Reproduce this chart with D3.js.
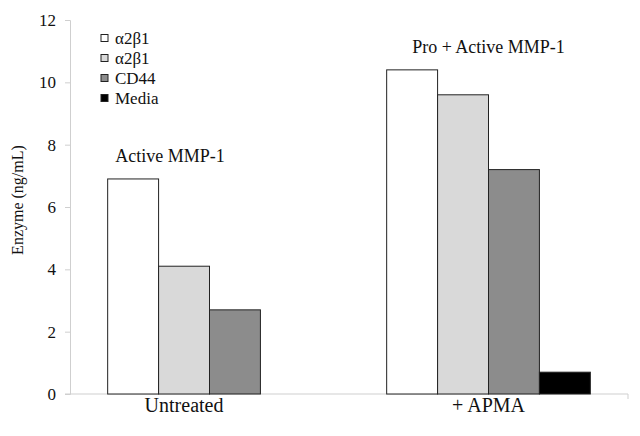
<!DOCTYPE html>
<html><head><meta charset="utf-8">
<script src="https://cdn.jsdelivr.net/npm/d3@7/dist/d3.min.js"></script>
<style>body{margin:0;background:#fff;}svg{display:block;}</style>
</head><body><svg id="c" width="640" height="436"></svg>
<script>
const categories = ["Untreated", "+ APMA"];
const seriesNames = ["α2β1", "α2β1", "CD44", "Media"];
const seriesColors = ["#ffffff", "#d9d9d9", "#8c8c8c", "#000000"];
const values = [
  [6.9, 4.1, 2.7, null],
  [10.4, 9.6, 7.2, 0.7]
];
const groupNotes = ["Active MMP-1", "Pro + Active MMP-1"];
const yTicks = [0, 2, 4, 6, 8, 10, 12];

(function () {
const FONT = "'Liberation Serif', 'Times New Roman', 'DejaVu Serif', serif";
const svg = d3.select("#c");
const mLeft = 70, mRight = 628, mTop = 20, mBottom = 394;
const x0 = d3.scaleBand().domain(categories).range([mLeft, mRight]).paddingInner(0.27).paddingOuter(0.135);
const x1 = d3.scaleBand().domain(d3.range(seriesNames.length)).range([0, x0.bandwidth()]);
const y = d3.scaleLinear().domain([0, 12]).range([mBottom, mTop]);

// y axis
const ya = svg.append("g").attr("transform", `translate(${mLeft},0)`)
  .call(d3.axisLeft(y).tickValues(yTicks).tickSize(5).tickPadding(9));
ya.attr("font-family", null).attr("font-size", null);
ya.select(".domain").attr("stroke", "#cfcfcf");
ya.selectAll(".tick line").attr("stroke", "#cfcfcf");
ya.selectAll("text").attr("font-size", 17).attr("fill", "#111")
  .style("font-family", FONT);

// x axis line
svg.append("line").attr("x1", mLeft - 5).attr("x2", mRight).attr("y1", mBottom).attr("y2", mBottom).attr("stroke", "#cfcfcf");
svg.append("line").attr("x1", mRight).attr("x2", mRight).attr("y1", mBottom).attr("y2", mBottom + 5).attr("stroke", "#cfcfcf");

// bars
categories.forEach((c, gi) => {
  const g = svg.append("g").attr("transform", `translate(${x0(c)},0)`);
  const vals = values[gi];
  vals.forEach((v, si) => {
    if (v == null) return;
    g.append("rect").attr("x", x1(si)).attr("width", x1.bandwidth())
      .attr("y", y(v)).attr("height", y(0) - y(v))
      .attr("fill", seriesColors[si]).attr("stroke", "#222").attr("stroke-width", 1);
  });
  const present = vals.map((v, i) => v == null ? null : i).filter(i => i != null);
  const cx = x0(c) + (x1(present[0]) + x1(present[present.length - 1]) + x1.bandwidth()) / 2;
  svg.append("text").attr("x", cx).attr("y", mBottom + 18).attr("text-anchor", "middle")
    .style("font-family", FONT).attr("font-size", 20).attr("fill", "#111").text(c);
  const maxV = d3.max(vals);
  svg.append("text").attr("x", gi === 0 ? cx - 14 : cx)
    .attr("y", y(maxV) - 17).attr("text-anchor", "middle")
    .style("font-family", FONT).attr("font-size", 18).attr("fill", "#111").text(groupNotes[gi]);
});

// y title
svg.append("text").attr("transform", `translate(23,${(mTop + mBottom) / 2 - 7}) rotate(-90)`)
  .attr("text-anchor", "middle").style("font-family", FONT).attr("font-size", 16).attr("fill", "#111").text("Enzyme (ng/mL)");

// legend
const lg = svg.append("g").attr("transform", "translate(101,38)");
seriesNames.forEach((n, i) => {
  const row = lg.append("g").attr("transform", `translate(0,${i * 20})`);
  row.append("rect").attr("x", 0).attr("y", -3.5).attr("width", 7).attr("height", 7)
    .attr("fill", seriesColors[i]).attr("stroke", "#222").attr("stroke-width", 1);
  row.append("text").attr("x", 14).attr("y", 5.5).style("font-family", FONT)
    .attr("font-size", 17).attr("fill", "#111").text(n);
});
})();
</script></body></html>
